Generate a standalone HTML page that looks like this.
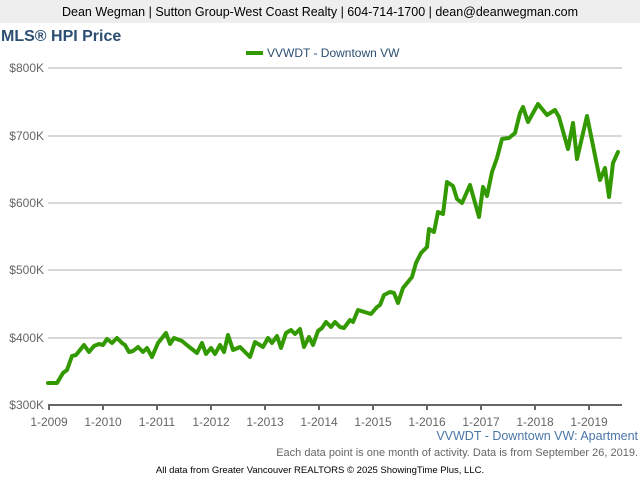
<!DOCTYPE html>
<html><head><meta charset="utf-8"><style>
body{margin:0;width:640px;height:480px;background:#fff;overflow:hidden;font-family:"Liberation Sans",sans-serif}
</style></head><body>
<svg width="640" height="480" xmlns="http://www.w3.org/2000/svg" font-family="Liberation Sans, sans-serif">
<rect x="0" y="0" width="640" height="23" fill="#eeeeee"/>
<text x="320" y="16" font-size="12.5" text-anchor="middle" fill="#000">Dean Wegman | Sutton Group-West Coast Realty | 604-714-1700 | dean@deanwegman.com</text>
<text x="1" y="41" font-size="16" font-weight="bold" fill="#2b4e72">MLS® HPI Price</text>
<rect x="246" y="51" width="17" height="4" fill="#339900"/>
<text x="267" y="57" font-size="12" fill="#2b4e72">VVWDT - Downtown VW</text>
<g stroke="#b0b0b0" stroke-width="1">
<line x1="48" y1="68" x2="622" y2="68"/>
<line x1="48" y1="136" x2="622" y2="136"/>
<line x1="48" y1="203" x2="622" y2="203"/>
<line x1="48" y1="270" x2="622" y2="270"/>
<line x1="48" y1="338" x2="622" y2="338"/>
</g>
<line x1="48" y1="405" x2="622" y2="405" stroke="#666" stroke-width="2"/>
<g stroke="#666" stroke-width="2">
<line x1="49" y1="405" x2="49" y2="410"/><line x1="103" y1="405" x2="103" y2="410"/>
<line x1="157" y1="405" x2="157" y2="410"/><line x1="211" y1="405" x2="211" y2="410"/>
<line x1="265" y1="405" x2="265" y2="410"/><line x1="319" y1="405" x2="319" y2="410"/>
<line x1="373" y1="405" x2="373" y2="410"/><line x1="427" y1="405" x2="427" y2="410"/>
<line x1="481" y1="405" x2="481" y2="410"/><line x1="535" y1="405" x2="535" y2="410"/>
<line x1="589" y1="405" x2="589" y2="410"/>
</g>
<g font-size="12" fill="#666" text-anchor="end">
<text x="44" y="72">$800K</text><text x="44" y="140">$700K</text><text x="44" y="207">$600K</text>
<text x="44" y="274">$500K</text><text x="44" y="342">$400K</text><text x="44" y="409">$300K</text>
</g>
<g font-size="12" fill="#666" text-anchor="middle">
<text x="49" y="426">1-2009</text><text x="103" y="426">1-2010</text><text x="157" y="426">1-2011</text>
<text x="211" y="426">1-2012</text><text x="265" y="426">1-2013</text><text x="319" y="426">1-2014</text>
<text x="373" y="426">1-2015</text><text x="427" y="426">1-2016</text><text x="481" y="426">1-2017</text>
<text x="535" y="426">1-2018</text><text x="589" y="426">1-2019</text>
</g>
<polyline fill="none" stroke="#339900" stroke-width="4" stroke-linejoin="round" stroke-linecap="round" points="48,383 57,383 63,373 67,370 72,356 76,355 84,345 89,352 94,346 99,344 103,345 107,339 112,343 117,338 122,343 125,345 129,352 133,351 138,347 143,352 147,348 152,357 158,343 166,333 170,344 174,338 182,341 188,346 197,353 202,343 206,354 211,348 215,354 220,345 224,352 228,335 233,350 240,347 250,357 255,342 263,347 268,338 272,343 277,336 281,348 286,333 291,330 295,334 300,329 304,347 309,337 313,345 318,331 322,328 326,322 331,327 335,322 340,327 344,328 350,320 353,322 358,310 371,314 377,307 380,305 384,295 390,292 394,293 398,303 403,288 412,277 416,263 421,253 427,247 429,229 434,232 438,212 443,214 447,182 453,186 457,199 462,203 470,185 479,217 483,187 487,196 492,172 497,158 502,139 509,138 515,133 520,113 523,107 528,122 538,104 547,115 555,110 559,117 568,149 573,123 577,159 587,116 600,180 605,168 609,197 613,163 618,152"/>
<text x="638" y="440" font-size="12.5" fill="#4a76a8" text-anchor="end">VVWDT - Downtown VW: Apartment</text>
<text x="638" y="456" font-size="11" fill="#666" text-anchor="end">Each data point is one month of activity. Data is from September 26, 2019.</text>
<text x="320" y="473" font-size="9.5" fill="#000" text-anchor="middle">All data from Greater Vancouver REALTORS © 2025 ShowingTime Plus, LLC.</text>
</svg>
</body></html>
